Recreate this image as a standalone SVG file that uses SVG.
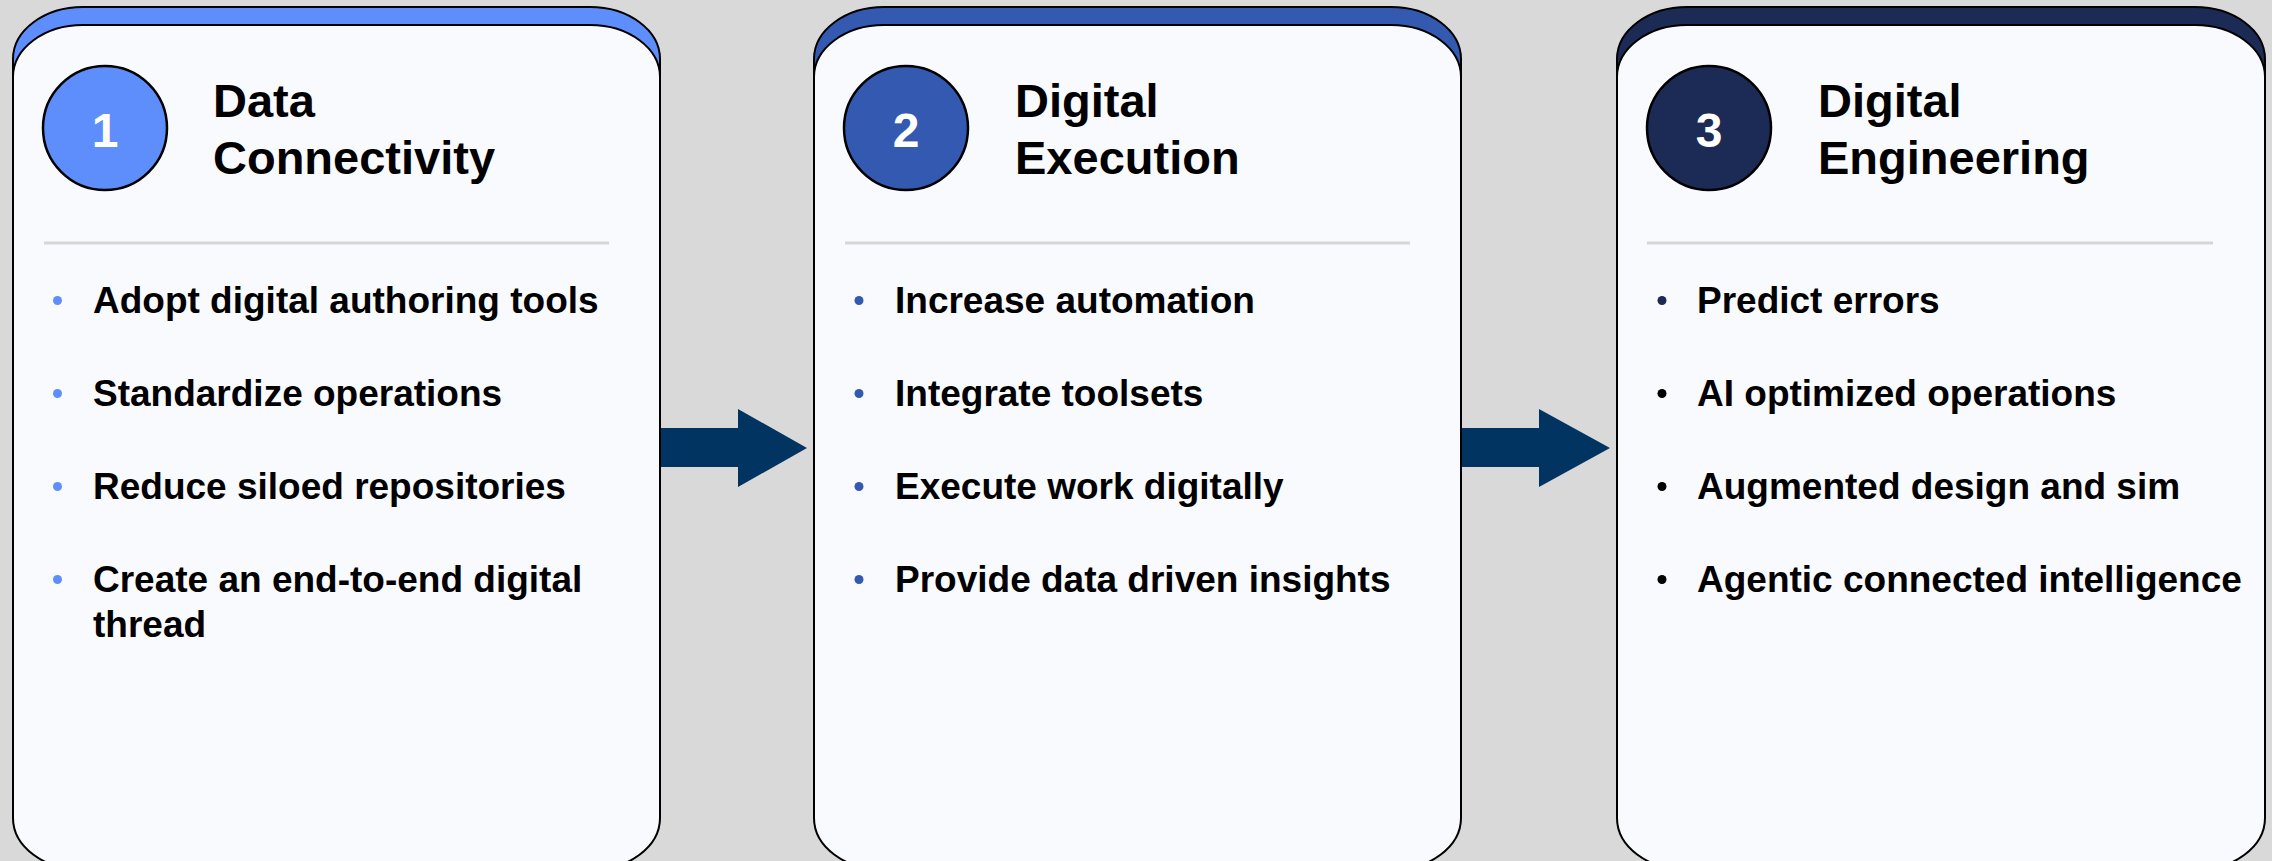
<svg xmlns="http://www.w3.org/2000/svg" width="2272" height="861" viewBox="0 0 2272 861">
<style>
.bg{fill:#D9D9D9}
.hdr{stroke:#000;stroke-width:2}
.card{fill:#F9FAFD;stroke:#000;stroke-width:2}
.circ{stroke:#000;stroke-width:2.5}
.num{font-family:"Liberation Sans",Arial,sans-serif;font-weight:bold;font-size:48px;fill:#fff;text-anchor:middle}
.title{font-family:"Liberation Sans",Arial,sans-serif;font-weight:bold;font-size:47px;fill:#000}
.sep{stroke:#D6D6D6;stroke-width:3}
.item{font-family:"Liberation Sans",Arial,sans-serif;font-weight:bold;font-size:37px;fill:#000}
.arrow{fill:#023461}
.c1{fill:#5E8EFB}
.c2{fill:#3459B0}
.c3{fill:#1C2B55}
.blk{fill:#000}
</style>
<rect class="bg" x="0" y="0" width="2272" height="861"/>

<g id="card1">
  <rect class="hdr c1" x="13" y="7" width="647" height="845" rx="70" ry="52"/>
  <rect class="card" x="13" y="25" width="647" height="845" rx="70" ry="52"/>
  <circle class="circ c1" cx="105" cy="128" r="62"/>
  <text class="num" x="105" y="147">1</text>
  <text class="title" x="213" y="117">Data</text>
  <text class="title" x="213" y="174">Connectivity</text>
  <line class="sep" x1="44" y1="243" x2="609" y2="243"/>
  <circle class="c1" cx="57.5" cy="300.5" r="4.5"/>
  <text class="item" x="93" y="313">Adopt digital authoring tools</text>
  <circle class="c1" cx="57.5" cy="393.5" r="4.5"/>
  <text class="item" x="93" y="406">Standardize operations</text>
  <circle class="c1" cx="57.5" cy="486.5" r="4.5"/>
  <text class="item" x="93" y="499">Reduce siloed repositories</text>
  <circle class="c1" cx="57.5" cy="579.5" r="4.5"/>
  <text class="item" x="93" y="592">Create an end-to-end digital</text>
  <text class="item" x="93" y="637">thread</text>
</g>

<g id="card2">
  <rect class="hdr c2" x="814" y="7" width="647" height="845" rx="70" ry="52"/>
  <rect class="card" x="814" y="25" width="647" height="845" rx="70" ry="52"/>
  <circle class="circ c2" cx="906" cy="128" r="62"/>
  <text class="num" x="906" y="147">2</text>
  <text class="title" x="1015" y="117">Digital</text>
  <text class="title" x="1015" y="174">Execution</text>
  <line class="sep" x1="845" y1="243" x2="1410" y2="243"/>
  <circle class="c2" cx="859" cy="300.5" r="4.5"/>
  <text class="item" x="895" y="313">Increase automation</text>
  <circle class="c2" cx="859" cy="393.5" r="4.5"/>
  <text class="item" x="895" y="406">Integrate toolsets</text>
  <circle class="c2" cx="859" cy="486.5" r="4.5"/>
  <text class="item" x="895" y="499">Execute work digitally</text>
  <circle class="c2" cx="859" cy="579.5" r="4.5"/>
  <text class="item" x="895" y="592">Provide data driven insights</text>
</g>

<g id="card3">
  <rect class="hdr c3" x="1617" y="7" width="648" height="845" rx="70" ry="52"/>
  <rect class="card" x="1617" y="25" width="648" height="845" rx="70" ry="52"/>
  <circle class="circ c3" cx="1709" cy="128" r="62"/>
  <text class="num" x="1709" y="147">3</text>
  <text class="title" x="1818" y="117">Digital</text>
  <text class="title" x="1818" y="174">Engineering</text>
  <line class="sep" x1="1647" y1="243" x2="2213" y2="243"/>
  <circle class="c3" cx="1662" cy="300.5" r="4.5"/>
  <text class="item" x="1697" y="313">Predict errors</text>
  <circle class="blk" cx="1662" cy="393.5" r="4.5"/>
  <text class="item" x="1697" y="406">AI optimized operations</text>
  <circle class="blk" cx="1662" cy="486.5" r="4.5"/>
  <text class="item" x="1697" y="499">Augmented design and sim</text>
  <circle class="blk" cx="1662" cy="579.5" r="4.5"/>
  <text class="item" x="1697" y="592">Agentic connected intelligence</text>
</g>

<g id="connectors">
  <polygon class="arrow" points="661,428 738,428 738,409 807,448 738,487 738,467 661,467"/>
  <polygon class="arrow" points="1462,428 1539,428 1539,409 1610,448 1539,487 1539,467 1462,467"/>
</g>
</svg>
